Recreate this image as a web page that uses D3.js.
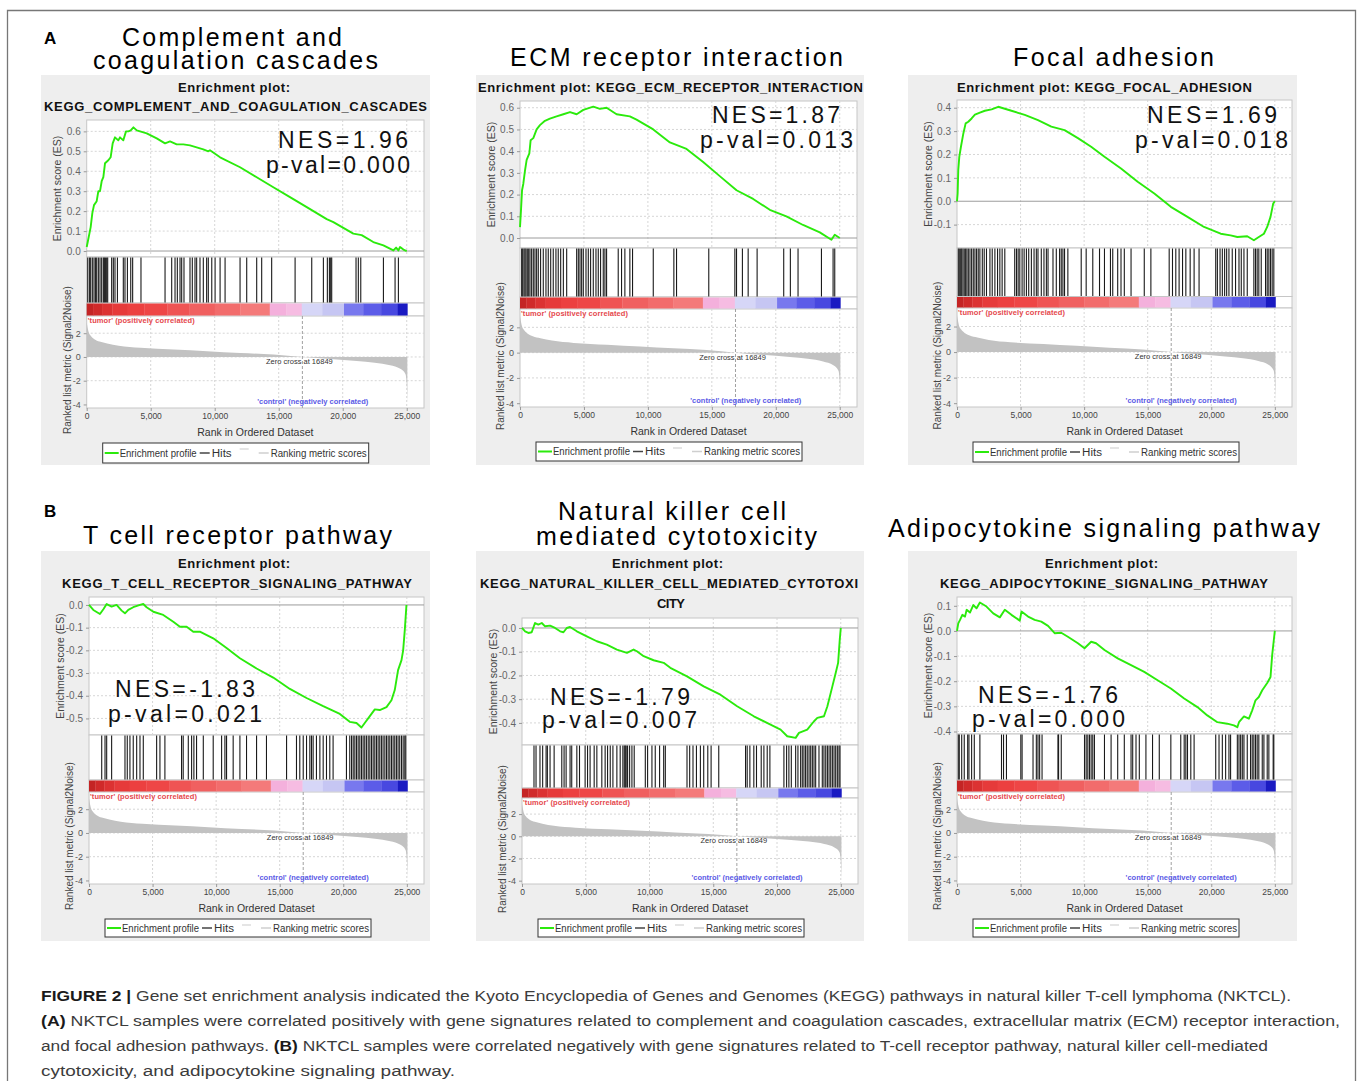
<!DOCTYPE html>
<html>
<head>
<meta charset="utf-8">
<script src="https://cdn.jsdelivr.net/npm/d3@7"></script>
<style>
body { margin: 0; background: #fff; }
svg { display: block; }
text { font-family: "Liberation Sans", Arial, sans-serif; }
</style>
</head>
<body>
<svg id="fig" width="1358" height="1081"></svg>
<script>
// ranks are in thousands of genes
const rankMax = 26.35;
const xTicks = [0, 5, 10, 15, 20, 25];
const zeroCross = 16.849;
const rankDomain = [-4.3, 3.45];
const rankTicks = [2, 0, -2, -4];

// ranked list metric (shared by all six plots)
const metricRank = [0, 0.05, 0.15, 0.3, 0.6, 1.0, 1.6, 2.5, 4.2, 6.8, 9.4, 12.0, 14.6, 16.85, 18.5, 21.1, 22.5, 23.7, 24.5, 24.9, 25.0, 25.05];
const metricValue = [2.9, 2.6, 2.1, 1.8, 1.5, 1.3, 1.14, 0.95, 0.77, 0.63, 0.49, 0.34, 0.2, 0, -0.14, -0.34, -0.48, -0.7, -1.0, -1.43, -2.3, -3.8];

// colour strip under the hits
const barStart = [0, 0.5, 1.2, 2.0, 3.2, 4.5, 6.3, 8.0, 10.0, 12.0, 14.3, 15.6, 16.8, 18.4, 20.1, 21.6, 23.0, 24.3];
const barEnd   = [0.5, 1.2, 2.0, 3.2, 4.5, 6.3, 8.0, 10.0, 12.0, 14.3, 15.6, 16.8, 18.4, 20.1, 21.6, 23.0, 24.3, 25.05];
const barColor = ['#c42424', '#d02a2a', '#dc3232', '#e63a3a', '#ec4040', '#ee4646', '#ef5454', '#f06060', '#f26c6c', '#f47a7a',
                  '#f4b0dc', '#f6bce2', '#d6d6f7', '#c6c6f3', '#7878ee', '#5c5ce8', '#4848e0', '#1a1ac2'];

const panelTitles = [["Complement and", "coagulation cascades"], ["ECM receptor interaction"], ["Focal adhesion"],
                     ["T cell receptor pathway"], ["Natural killer cell", "mediated cytotoxicity"], ["Adipocytokine signaling pathway"]];
const plotTitles = [["Enrichment plot:", "KEGG_COMPLEMENT_AND_COAGULATION_CASCADES"], ["Enrichment plot: KEGG_ECM_RECEPTOR_INTERACTION"],
                    ["Enrichment plot: KEGG_FOCAL_ADHESION"], ["Enrichment plot:", "KEGG_T_CELL_RECEPTOR_SIGNALING_PATHWAY"],
                    ["Enrichment plot:", "KEGG_NATURAL_KILLER_CELL_MEDIATED_CYTOTOXI", "CITY"], ["Enrichment plot:", "KEGG_ADIPOCYTOKINE_SIGNALING_PATHWAY"]];
const nesLabels = ["NES=1.96", "NES=1.87", "NES=1.69", "NES=-1.83", "NES=-1.79", "NES=-1.76"];
const pvalLabels = ["p-val=0.000", "p-val=0.013", "p-val=0.018", "p-val=0.021", "p-val=0.007", "p-val=0.000"];

const esDomains = [[-0.03, 0.657], [-0.046, 0.631], [-0.2, 0.433], [-0.573, 0.035], [-0.493, 0.042], [-0.41, 0.135]];
const esTicks = [[0, 0.1, 0.2, 0.3, 0.4, 0.5, 0.6], [0, 0.1, 0.2, 0.3, 0.4, 0.5, 0.6], [-0.1, 0, 0.1, 0.2, 0.3, 0.4],
                 [-0.5, -0.4, -0.3, -0.2, -0.1, 0], [-0.4, -0.3, -0.2, -0.1, 0], [-0.4, -0.3, -0.2, -0.1, 0, 0.1]];

// hit positions (rank, thousands)
const hitsComplement = [0.08, 0.21, 0.31, 0.44, 0.57, 0.68, 0.78, 0.91, 1.04, 1.17, 1.30, 1.38, 1.46, 1.56, 1.64, 1.95, 2.08, 2.21, 2.40, 2.86, 2.99, 3.18, 3.44, 3.59, 4.24,
  6.12, 6.64, 6.90, 7.08, 7.29, 7.42, 7.60, 8.07, 8.25, 8.46, 8.59, 8.85, 9.11, 9.37, 9.50, 9.77, 10.03, 10.42, 10.81, 11.98, 12.50, 13.28, 13.67, 14.45,
  16.28, 17.58, 18.49, 18.80, 18.96, 19.06, 19.14, 21.04, 21.22, 21.41, 23.18, 24.09, 24.35];
const hitsEcm = [0.13, 0.21, 0.31, 0.39, 0.47, 0.57, 0.68, 0.78, 0.91, 1.04, 1.17, 1.30, 1.43, 1.61, 1.82, 2.03, 2.21, 2.40, 2.60, 2.81, 2.99, 3.18, 3.39, 3.65,
  4.43, 4.56, 4.69, 4.82, 4.95, 5.16, 5.34, 5.52, 5.73, 5.94, 6.12, 6.30, 6.51, 6.64, 6.77, 7.68, 7.94, 8.20, 8.59, 8.80, 10.42, 12.03, 12.24, 14.76,
  16.80, 16.93, 17.39, 17.84, 18.54, 20.62, 21.14, 21.74, 23.57, 24.48, 24.61];
const hitsFocal = [0.10, 0.18, 0.29, 0.37, 0.47, 0.57, 0.68, 0.78, 0.89, 1.02, 1.15, 1.28, 1.41, 1.54, 1.67, 1.80, 1.99, 2.14, 2.32, 2.59, 2.77, 2.98, 3.19, 3.37, 3.55, 3.76,
  4.54, 4.68, 4.81, 4.94, 5.12, 5.28, 5.46, 5.64, 5.85, 6.06, 6.24, 6.37, 6.63, 6.84, 7.03, 7.16, 7.55, 7.81, 8.07, 8.20, 8.33, 8.46, 8.72, 9.77, 10.16, 10.68,
  11.21, 11.60, 12.07, 12.25, 12.64, 12.90, 13.16, 13.69, 14.73, 15.25, 16.69, 16.95, 17.21, 17.47, 17.74, 18.00, 18.34, 18.65, 19.04, 20.35, 20.48, 20.69,
  20.87, 21.05, 21.21, 21.39, 21.65, 21.91, 22.18, 22.36, 22.57, 22.83, 23.35, 23.48, 23.61, 23.74, 23.93, 24.27, 24.40, 24.53, 24.66, 24.79, 24.92];
const hitsTcell = [1.00, 1.26, 1.39, 1.78, 2.83, 3.01, 3.22, 3.48, 3.75, 4.01, 4.27, 5.32, 5.58, 5.97, 7.28, 7.41, 7.81, 8.07, 8.25, 8.46, 8.99, 9.77, 10.43, 10.69,
  10.82, 11.34, 11.87, 12.39, 13.18, 13.96, 15.54, 16.32, 16.58, 16.85, 17.11, 17.37, 17.50, 17.63, 17.89, 18.16, 18.42, 18.68, 18.94, 19.20, 20.25, 20.51,
  20.65, 20.78, 20.91, 21.04, 21.17, 21.30, 21.43, 21.56, 21.69, 21.82, 21.96, 22.09, 22.22, 22.35, 22.48, 22.61, 22.74, 22.87, 23.00, 23.13, 23.27, 23.40,
  23.53, 23.66, 23.79, 23.92, 24.05, 24.18, 24.31, 24.44, 24.58, 24.71, 24.84, 24.92];
const hitsNk = [0.94, 1.10, 1.41, 1.62, 1.89, 1.99, 2.20, 2.52, 3.12, 3.30, 3.46, 3.77, 3.90, 4.30, 4.51, 4.95, 5.14, 5.34, 5.66, 5.87, 6.26, 6.52, 6.71, 6.92,
  7.13, 7.44, 7.70, 7.91, 8.02, 8.10, 8.17, 8.28, 8.44, 8.62, 8.80, 9.67, 9.85, 10.19, 10.45, 10.79, 11.11, 11.24, 12.94, 13.15, 13.41, 13.68, 13.99, 14.25,
  14.57, 14.83, 15.43, 17.53, 17.66, 17.87, 18.18, 18.39, 18.76, 18.97, 19.23, 19.44, 20.54, 20.75, 20.93, 21.12, 21.46, 21.64, 21.85, 21.98, 22.11, 22.24,
  22.37, 22.51, 22.64, 22.77, 22.90, 23.03, 23.29, 23.55, 23.68, 23.82, 23.95, 24.08, 24.21, 24.34, 24.47, 24.60, 24.73, 24.86, 24.94];
const hitsAdipo = [0.10, 0.18, 0.37, 0.57, 0.84, 0.94, 1.15, 1.36, 1.80, 3.50, 3.66, 3.89, 5.02, 5.12, 5.98, 6.24, 6.37, 6.50, 6.69, 7.94, 7.99, 8.20, 10.03,
  10.16, 10.29, 10.42, 10.55, 10.68, 10.81, 11.60, 12.12, 12.64, 13.16, 13.69, 13.82, 14.08, 14.34, 14.86, 15.38, 15.91, 16.82, 17.60, 17.87, 18.00, 18.13,
  18.39, 18.65, 20.35, 20.61, 20.87, 21.13, 21.39, 21.52, 22.05, 22.18, 22.31, 22.44, 22.57, 22.83, 23.09, 23.22, 23.35, 23.48, 23.61, 23.74, 24.01, 24.14,
  24.40, 24.53, 24.87, 24.92];

// running enrichment score: [rank (thousands), ES]
const esComplement = [[0, 0.02], [0.08, 0.045], [0.21, 0.087], [0.31, 0.12], [0.44, 0.19], [0.57, 0.23], [0.78, 0.25], [0.91, 0.30], [1.04, 0.30], [1.17, 0.35],
  [1.30, 0.37], [1.43, 0.44], [1.69, 0.455], [1.87, 0.47], [2.03, 0.54], [2.21, 0.57], [2.47, 0.555], [2.60, 0.57], [2.86, 0.555], [3.07, 0.60], [3.26, 0.60],
  [3.44, 0.605], [3.65, 0.62], [3.91, 0.605], [4.17, 0.60], [4.69, 0.59], [5.47, 0.565], [6.12, 0.54], [6.51, 0.55], [7.03, 0.535], [7.55, 0.535],
  [8.07, 0.53], [8.59, 0.52], [9.11, 0.51], [9.50, 0.50], [9.63, 0.505], [10.42, 0.47], [11.98, 0.42], [13.28, 0.37], [14.58, 0.32], [15.88, 0.27],
  [17.19, 0.22], [18.75, 0.16], [19.27, 0.145], [20.83, 0.087], [21.48, 0.08], [22.39, 0.045], [23.18, 0.028], [23.96, 0.003], [24.17, 0.017],
  [24.35, 0.003], [24.48, 0.02], [24.74, 0.007], [25.0, 0]];
const esEcm = [[0, 0.05], [0.08, 0.13], [0.16, 0.22], [0.26, 0.25], [0.39, 0.31], [0.52, 0.36], [0.73, 0.39], [0.83, 0.45], [1.04, 0.46], [1.30, 0.50],
  [1.56, 0.52], [1.95, 0.54], [2.34, 0.55], [2.86, 0.56], [3.39, 0.57], [3.91, 0.58], [4.43, 0.57], [4.95, 0.59], [5.73, 0.605], [6.25, 0.595],
  [6.77, 0.60], [7.55, 0.57], [8.59, 0.56], [9.11, 0.545], [10.42, 0.50], [11.72, 0.44], [13.02, 0.41], [14.32, 0.35], [15.62, 0.285], [16.93, 0.22],
  [18.23, 0.18], [19.53, 0.13], [20.83, 0.10], [22.13, 0.06], [23.44, 0.026], [24.35, -0.008], [24.61, 0.015], [25.0, 0]];
const esFocal = [[0, 0], [0.05, 0.033], [0.10, 0.133], [0.18, 0.19], [0.31, 0.233], [0.50, 0.29], [0.68, 0.333], [0.89, 0.34], [1.15, 0.354], [1.41, 0.37],
  [1.80, 0.379], [2.19, 0.387], [2.72, 0.393], [3.24, 0.404], [3.50, 0.40], [4.28, 0.387], [5.33, 0.369], [6.37, 0.347], [7.42, 0.319], [8.46, 0.304],
  [9.51, 0.27], [10.55, 0.233], [11.60, 0.19], [12.90, 0.14], [14.21, 0.083], [15.52, 0.033], [16.82, -0.024], [18.13, -0.067], [19.43, -0.11],
  [20.74, -0.139], [21.52, -0.146], [22.05, -0.153], [22.83, -0.15], [23.35, -0.167], [23.74, -0.153], [24.14, -0.139], [24.40, -0.11],
  [24.66, -0.067], [24.87, -0.01], [25.0, 0]];
const esTcell = [[0, 0], [0.34, -0.022], [0.86, -0.04], [1.13, -0.019], [1.39, 0.004], [1.78, -0.007], [2.17, 0], [2.57, -0.025], [2.83, -0.037],
  [3.09, -0.022], [3.48, -0.01], [4.01, 0], [4.27, 0.004], [4.53, -0.01], [5.06, -0.03], [5.84, -0.044], [6.63, -0.074], [7.15, -0.096], [7.68, -0.096],
  [8.20, -0.118], [8.72, -0.118], [9.77, -0.147], [10.82, -0.19], [11.87, -0.235], [13.18, -0.28], [14.49, -0.32], [15.80, -0.37], [17.11, -0.41],
  [18.42, -0.446], [19.73, -0.48], [20.51, -0.515], [21.04, -0.52], [21.43, -0.54], [21.69, -0.52], [22.09, -0.49], [22.48, -0.46], [22.87, -0.463],
  [23.40, -0.45], [23.79, -0.42], [24.05, -0.375], [24.31, -0.287], [24.58, -0.243], [24.71, -0.2], [24.84, -0.11], [24.97, 0]];
const esNk = [[0, 0], [0.24, -0.014], [0.50, -0.021], [0.76, -0.018], [1.02, 0.021], [1.28, 0.014], [1.55, 0.021], [1.81, 0.007], [2.20, 0.01], [2.59, 0],
  [2.99, -0.014], [3.25, -0.018], [3.51, 0], [3.77, 0.004], [4.30, -0.014], [5.08, -0.035], [5.87, -0.056], [6.65, -0.07], [7.44, -0.091], [8.23, -0.105],
  [8.75, -0.091], [9.01, -0.098], [9.54, -0.119], [10.32, -0.136], [11.11, -0.147], [11.63, -0.168], [12.94, -0.204], [14.25, -0.246], [15.56, -0.281],
  [16.87, -0.33], [18.18, -0.372], [19.49, -0.407], [20.28, -0.428], [20.80, -0.456], [21.46, -0.463], [21.72, -0.442], [22.37, -0.428], [22.90, -0.393],
  [23.16, -0.379], [23.68, -0.372], [23.95, -0.33], [24.34, -0.246], [24.60, -0.19], [24.79, -0.147], [24.92, -0.049], [25.0, 0]];
const esAdipo = [[0, 0], [0.10, 0.03], [0.24, 0.044], [0.42, 0.064], [0.63, 0.057], [0.76, 0.084], [1.02, 0.073], [1.28, 0.103], [1.54, 0.09], [1.80, 0.113],
  [2.32, 0.097], [2.85, 0.07], [3.37, 0.054], [3.76, 0.084], [4.28, 0.064], [4.94, 0.041], [5.07, 0.077], [5.59, 0.057], [6.11, 0.044], [6.63, 0.037],
  [7.16, 0.02], [7.68, -0.009], [8.20, -0.007], [8.72, -0.023], [9.51, -0.049], [10.03, -0.069], [10.55, -0.043], [10.94, -0.049], [11.60, -0.076],
  [12.64, -0.109], [13.69, -0.136], [14.73, -0.163], [15.78, -0.196], [16.82, -0.229], [17.87, -0.269], [18.91, -0.303], [19.69, -0.336], [20.48, -0.363],
  [21.26, -0.369], [21.78, -0.376], [22.05, -0.383], [22.18, -0.363], [22.57, -0.34], [22.96, -0.349], [23.22, -0.316], [23.48, -0.276], [23.74, -0.263],
  [24.01, -0.236], [24.40, -0.207], [24.66, -0.183], [24.79, -0.096], [24.92, -0.036], [25.0, 0]];

const hitSets = [hitsComplement, hitsEcm, hitsFocal, hitsTcell, hitsNk, hitsAdipo];
const esSets = [esComplement, esEcm, esFocal, esTcell, esNk, esAdipo];

// layout of each panel (pixels)
const layouts = [
  {box: [41, 75, 430, 465], L: 86.7, R: 424, esTop: 120, esBot: 257, barTop: 303, barBot: 316, rankBot: 408, legH: 20},
  {box: [476, 75, 864, 465], L: 520, R: 857, esTop: 101, esBot: 248, barTop: 297, barBot: 309, rankBot: 407, legH: 19},
  {box: [908, 75, 1297, 465], L: 957, R: 1292, esTop: 100, esBot: 248, barTop: 296.5, barBot: 308, rankBot: 407, legH: 20},
  {box: [41, 551, 430, 941], L: 89, R: 424, esTop: 597, esBot: 735, barTop: 780, barBot: 792, rankBot: 884, legH: 18},
  {box: [476, 551, 864, 941], L: 522, R: 858, esTop: 618, esBot: 745, barTop: 788, barBot: 798, rankBot: 884, legH: 18},
  {box: [908, 551, 1297, 941], L: 957, R: 1292, esTop: 597, esBot: 734, barTop: 780, barBot: 792, rankBot: 884, legH: 18}
];
// [x start, x end, baseline]
const titlePos = [[[122, 342, 46], [93, 378, 68.5]], [[510, 843, 66]], [[1013, 1214, 66]], [[83, 392, 544]],
                  [[558, 786, 520], [536, 817, 545]], [[888, 1320, 537]]];
const plotTitlePos = [[[178, 290, 92], [44, 427, 111]], [[478, 863, 92]], [[957, 1252, 92]], [[178, 290, 568], [62, 412, 587.5]],
                      [[612, 723, 568], [480, 858, 587.5], [657, 685, 608]], [[1045, 1158, 568], [940, 1268, 587.5]]];
const nesPos = [[[278, 408, 148], [266, 410, 173]], [[712, 840, 123], [700, 853, 148]], [[1147, 1277, 123], [1135, 1288, 148]],
                [[115, 255, 697], [108, 262, 722]], [[550, 690, 705], [542, 697, 728]], [[978, 1118, 703], [972, 1125, 727]]];

const font = '"Liberation Sans", Arial, sans-serif';
const svg = d3.select('#fig');

// outer frame
svg.append('path').attr('d', 'M7.5,1081V10.5H1355.5V1081')
  .attr('fill', 'none').attr('stroke', '#777').attr('stroke-width', 1.3);

svg.append('text').attr('x', 44).attr('y', 43.5).style('font-size', '17px').style('font-weight', 'bold').text('A');
svg.append('text').attr('x', 44).attr('y', 516.5).style('font-size', '17px').style('font-weight', 'bold').text('B');

function fitText(g, str, pos, size, weight, adjust) {
  return g.append('text')
    .attr('x', pos[0]).attr('y', pos[2])
    .attr('textLength', pos[1] - pos[0]).attr('lengthAdjust', adjust || 'spacing')
    .style('font-size', size + 'px').style('font-weight', weight || 'normal')
    .text(str);
}

function drawPanel(i) {
  const lay = layouts[i];
  const g = svg.append('g');
  const [bx0, by0, bx1, by1] = lay.box;
  g.append('rect').attr('x', bx0).attr('y', by0).attr('width', bx1 - bx0).attr('height', by1 - by0).attr('fill', '#eeeeee');

  panelTitles[i].forEach((t, k) => fitText(svg, t, titlePos[i][k], 25));
  plotTitles[i].forEach((t, k) => fitText(g, t, plotTitlePos[i][k], 13, 'bold').attr('fill', '#111'));

  const x = d3.scaleLinear().domain([0, rankMax]).range([lay.L, lay.R]);
  const yEs = d3.scaleLinear().domain(esDomains[i]).range([lay.esBot, lay.esTop]);
  const yRank = d3.scaleLinear().domain(rankDomain).range([lay.rankBot, lay.barBot]);

  // plot frames
  [[lay.esTop, lay.esBot], [lay.esBot, lay.barTop], [lay.barTop, lay.barBot], [lay.barBot, lay.rankBot]].forEach(([a, b]) => {
    g.append('rect').attr('x', lay.L).attr('y', a).attr('width', lay.R - lay.L).attr('height', b - a)
      .attr('fill', '#fff').attr('stroke', '#c6c6c6');
  });

  // ES grid
  g.append('g').selectAll('line').data(xTicks.slice(1)).join('line')
    .attr('x1', d => x(d)).attr('x2', d => x(d)).attr('y1', lay.esTop).attr('y2', lay.esBot)
    .attr('stroke', '#d6d6d6').attr('stroke-dasharray', '2,2');
  g.append('g').selectAll('line').data(esTicks[i]).join('line')
    .attr('x1', lay.L).attr('x2', lay.R).attr('y1', d => yEs(d)).attr('y2', d => yEs(d))
    .attr('stroke', d => d === 0 ? '#9c9c9c' : '#d6d6d6')
    .attr('stroke-dasharray', d => d === 0 ? null : '2,2');

  // ES axis
  g.append('g').attr('transform', `translate(${lay.L},0)`)
    .call(d3.axisLeft(yEs).tickValues(esTicks[i]).tickFormat(d => d.toFixed(1)).tickSize(3).tickPadding(3))
    .call(a => a.select('.domain').remove())
    .call(a => a.selectAll('line').attr('stroke', '#999'))
    .call(a => a.selectAll('text').attr('fill', '#666'))
    .attr('font-family', font).attr('font-size', 10);

  // running ES curve
  g.append('path').datum(esSets[i])
    .attr('d', d3.line().x(d => x(d[0])).y(d => yEs(d[1])))
    .attr('fill', 'none').attr('stroke', '#2bea0c').attr('stroke-width', 1.9).attr('stroke-linejoin', 'round');

  // hits
  g.append('g').selectAll('line').data(hitSets[i]).join('line')
    .attr('x1', d => x(d)).attr('x2', d => x(d)).attr('y1', lay.esBot + 0.5).attr('y2', lay.barTop - 0.5)
    .attr('stroke', '#1a1a1a').attr('stroke-width', 1.1);

  // colour strip
  g.append('g').selectAll('rect').data(barColor).join('rect')
    .attr('x', (d, k) => x(barStart[k])).attr('width', (d, k) => x(barEnd[k]) - x(barStart[k]) + 0.3)
    .attr('y', lay.barTop + 0.5).attr('height', lay.barBot - lay.barTop - 1)
    .attr('fill', d => d);

  // ranked metric plot
  g.append('g').selectAll('line').data(xTicks.slice(1)).join('line')
    .attr('x1', d => x(d)).attr('x2', d => x(d)).attr('y1', lay.barBot).attr('y2', lay.rankBot)
    .attr('stroke', '#d6d6d6').attr('stroke-dasharray', '2,2');
  g.append('g').selectAll('line').data(rankTicks.slice(0, 3)).join('line')
    .attr('x1', lay.L).attr('x2', lay.R).attr('y1', d => yRank(d)).attr('y2', d => yRank(d))
    .attr('stroke', '#d6d6d6').attr('stroke-dasharray', '2,2');

  const metric = metricRank.map((r, k) => [r, metricValue[k]]);
  g.append('path').datum(metric)
    .attr('d', d3.area().x(d => x(d[0])).y0(yRank(0)).y1(d => yRank(d[1])).curve(d3.curveMonotoneX))
    .attr('fill', '#c2c2c2');

  g.append('line').attr('x1', x(zeroCross)).attr('x2', x(zeroCross)).attr('y1', lay.barBot).attr('y2', lay.rankBot)
    .attr('stroke', '#a0a0a0').attr('stroke-dasharray', '3,2');
  g.append('text').attr('x', x(zeroCross) - 3).attr('y', yRank(0) + 7).attr('text-anchor', 'middle')
    .style('font-size', '7.5px').attr('fill', '#333').text('Zero cross at 16849');
  g.append('text').attr('x', lay.L + 1).attr('y', lay.barBot + 6.5)
    .attr('textLength', 107).attr('lengthAdjust', 'spacing')
    .style('font-size', '7.5px').style('font-weight', 'bold').attr('fill', '#e5484d').text("'tumor' (positively correlated)");
  g.append('text').attr('x', x(22.0)).attr('y', lay.rankBot - 4).attr('text-anchor', 'end')
    .style('font-size', '7.5px').style('font-weight', 'bold').attr('fill', '#5a5ae6').text("'control' (negatively correlated)");

  g.append('g').attr('transform', `translate(${lay.L},0)`)
    .call(d3.axisLeft(yRank).tickValues(rankTicks).tickFormat(d => String(d)).tickSize(3).tickPadding(3))
    .call(a => a.select('.domain').remove())
    .call(a => a.selectAll('line').attr('stroke', '#999'))
    .call(a => a.selectAll('text').attr('fill', '#555'))
    .attr('font-family', font).attr('font-size', 9);

  g.append('g').attr('transform', `translate(0,${lay.rankBot})`)
    .call(d3.axisBottom(x).tickValues(xTicks).tickFormat(d => d3.format(',')(d * 1000)).tickSize(3).tickPadding(2))
    .call(a => a.select('.domain').remove())
    .call(a => a.selectAll('line').attr('stroke', '#999'))
    .call(a => a.selectAll('text').attr('fill', '#444'))
    .attr('font-family', font).attr('font-size', 8.5);

  // axis titles
  g.append('text').attr('x', (lay.L + lay.R) / 2).attr('y', lay.rankBot + 28).attr('text-anchor', 'middle')
    .style('font-size', '10.5px').attr('fill', '#333').text('Rank in Ordered Dataset');
  g.append('text').attr('transform', `translate(${lay.L - 25.5},${(lay.esTop + lay.esBot) / 2}) rotate(-90)`)
    .attr('text-anchor', 'middle').style('font-size', '10.5px').attr('fill', '#444').text('Enrichment score (ES)');
  g.append('text').attr('transform', `translate(${lay.L - 16},${(lay.barBot + lay.rankBot) / 2 - 2}) rotate(-90)`)
    .attr('text-anchor', 'middle').style('font-size', '10px').attr('fill', '#444').text('Ranked list metric (Signal2Noise)');

  // legend
  const lx = lay.L + 16, ly = lay.rankBot + 35, lh = lay.legH, my = ly + lh / 2;
  g.append('rect').attr('x', lx).attr('y', ly).attr('width', 266).attr('height', lh)
    .attr('fill', '#fff').attr('stroke', '#333').attr('stroke-width', 1);
  g.append('line').attr('x1', lx + 2).attr('x2', lx + 16).attr('y1', my).attr('y2', my).attr('stroke', '#2bea0c').attr('stroke-width', 2);
  fitText(g, 'Enrichment profile', [lx + 17, lx + 94, my + 3.5], 10, 'normal', 'spacingAndGlyphs').attr('fill', '#333');
  g.append('line').attr('x1', lx + 97).attr('x2', lx + 107).attr('y1', my).attr('y2', my).attr('stroke', '#444').attr('stroke-width', 1.5);
  fitText(g, 'Hits', [lx + 109, lx + 129, my + 3.5], 10, 'normal', 'spacingAndGlyphs').attr('fill', '#333');
  g.append('line').attr('x1', lx + 137).attr('x2', lx + 146).attr('y1', ly + 6).attr('y2', ly + 6).attr('stroke', '#dcdcdc').attr('stroke-width', 1.5);
  g.append('line').attr('x1', lx + 156).attr('x2', lx + 166).attr('y1', my).attr('y2', my).attr('stroke', '#cfcfcf').attr('stroke-width', 1.5);
  fitText(g, 'Ranking metric scores', [lx + 168, lx + 264, my + 3.5], 10, 'normal', 'spacingAndGlyphs').attr('fill', '#333');

  // NES / p-value
  fitText(g, nesLabels[i], nesPos[i][0], 23).attr('fill', '#111');
  fitText(g, pvalLabels[i], nesPos[i][1], 23).attr('fill', '#111');
}

d3.range(6).forEach(drawPanel);

// caption
const caption = [
  [{t: 'FIGURE 2 |', b: true}, {t: ' Gene set enrichment analysis indicated the Kyoto Encyclopedia of Genes and Genomes (KEGG) pathways in natural killer T-cell lymphoma (NKTCL).'}],
  [{t: '(A)', b: true}, {t: ' NKTCL samples were correlated positively with gene signatures related to complement and coagulation cascades, extracellular matrix (ECM) receptor interaction,'}],
  [{t: 'and focal adhesion pathways. '}, {t: '(B)', b: true}, {t: ' NKTCL samples were correlated negatively with gene signatures related to T-cell receptor pathway, natural killer cell-mediated'}],
  [{t: 'cytotoxicity, and adipocytokine signaling pathway.'}]
];
const captionPos = [[41, 1291, 1000.5], [41, 1340, 1025.5], [41, 1268, 1051], [41, 455, 1075.5]];
caption.forEach((parts, k) => {
  const p = captionPos[k];
  const t = svg.append('text').attr('x', p[0]).attr('y', p[2])
    .attr('textLength', p[1] - p[0]).attr('lengthAdjust', 'spacingAndGlyphs')
    .style('font-family', '"Liberation Sans Narrow", "Liberation Sans", Arial, sans-serif')
    .style('font-size', '15.5px').attr('fill', '#3c3c3c');
  parts.forEach(s => t.append('tspan').style('font-weight', s.b ? 'bold' : 'normal').attr('fill', s.b ? '#1a1a1a' : '#3c3c3c').text(s.t));
});
</script>
</body>
</html>
